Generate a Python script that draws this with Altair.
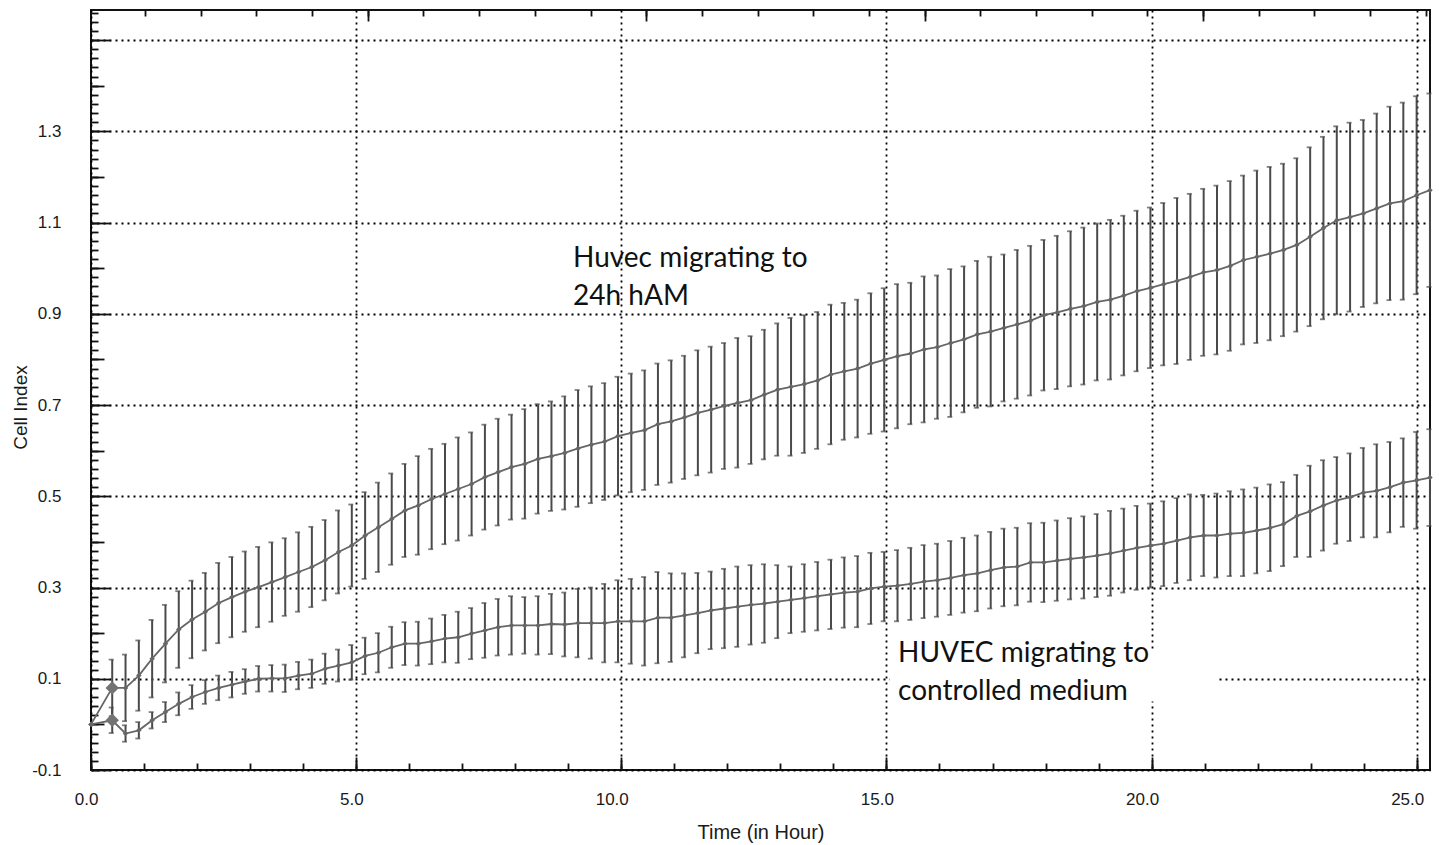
import altair as alt
import pandas as pd

# ---------------- data ----------------
START_T = 0.0          # first reading (time 0)
START_V = 0.0          # both curves start at 0
FIRST_SWEEP_T = 0.4    # first reading after the treatment (big diamond)
SWEEP_STEP = 0.251     # hours between readings

HAM_MEAN = [0.080, 0.080, 0.107, 0.144, 0.177, 0.208, 0.230, 0.247, 0.266, 0.279,
            0.291, 0.301, 0.312, 0.323, 0.334, 0.345, 0.360, 0.378, 0.392, 0.414,
            0.432, 0.450, 0.469, 0.480, 0.494, 0.505, 0.516, 0.527, 0.542, 0.553,
            0.564, 0.571, 0.582, 0.588, 0.595, 0.605, 0.613, 0.620, 0.632, 0.639,
            0.645, 0.658, 0.664, 0.673, 0.683, 0.690, 0.698, 0.705, 0.711, 0.723,
            0.734, 0.740, 0.746, 0.754, 0.767, 0.774, 0.780, 0.791, 0.799, 0.807,
            0.813, 0.822, 0.827, 0.836, 0.844, 0.855, 0.861, 0.869, 0.877, 0.885,
            0.897, 0.903, 0.911, 0.917, 0.926, 0.931, 0.940, 0.950, 0.957, 0.965,
            0.972, 0.981, 0.991, 0.996, 1.005, 1.018, 1.025, 1.032, 1.040, 1.051,
            1.069, 1.088, 1.105, 1.112, 1.120, 1.131, 1.142, 1.147, 1.160, 1.171]
HAM_SD = [0.062, 0.073, 0.077, 0.085, 0.085, 0.084, 0.085, 0.085, 0.088, 0.088,
          0.088, 0.088, 0.087, 0.085, 0.087, 0.088, 0.088, 0.091, 0.090, 0.095,
          0.098, 0.100, 0.102, 0.108, 0.110, 0.110, 0.113, 0.113, 0.115, 0.117,
          0.115, 0.120, 0.120, 0.120, 0.124, 0.128, 0.128, 0.128, 0.130, 0.130,
          0.131, 0.133, 0.134, 0.135, 0.137, 0.138, 0.138, 0.142, 0.140, 0.142,
          0.145, 0.151, 0.151, 0.150, 0.153, 0.150, 0.151, 0.154, 0.157, 0.158,
          0.155, 0.160, 0.157, 0.162, 0.160, 0.161, 0.164, 0.161, 0.163, 0.164,
          0.165, 0.168, 0.170, 0.172, 0.172, 0.175, 0.175, 0.176, 0.176, 0.178,
          0.182, 0.182, 0.183, 0.185, 0.186, 0.185, 0.189, 0.190, 0.189, 0.190,
          0.196, 0.200, 0.206, 0.207, 0.205, 0.208, 0.212, 0.216, 0.217, 0.212]
CTL_MEAN = [0.009, -0.020, -0.013, 0.009, 0.027, 0.045, 0.060, 0.071, 0.080, 0.087,
            0.094, 0.100, 0.101, 0.101, 0.107, 0.111, 0.122, 0.129, 0.136, 0.150,
            0.157, 0.169, 0.177, 0.177, 0.182, 0.188, 0.191, 0.199, 0.206, 0.213,
            0.217, 0.217, 0.217, 0.220, 0.219, 0.222, 0.222, 0.222, 0.226, 0.226,
            0.226, 0.234, 0.234, 0.239, 0.244, 0.250, 0.254, 0.258, 0.262, 0.265,
            0.269, 0.273, 0.277, 0.281, 0.285, 0.289, 0.291, 0.298, 0.302, 0.304,
            0.308, 0.313, 0.316, 0.321, 0.327, 0.331, 0.338, 0.344, 0.346, 0.355,
            0.355, 0.359, 0.363, 0.366, 0.370, 0.375, 0.381, 0.387, 0.392, 0.396,
            0.403, 0.410, 0.414, 0.414, 0.418, 0.420, 0.425, 0.431, 0.439, 0.457,
            0.467, 0.480, 0.491, 0.498, 0.508, 0.512, 0.520, 0.530, 0.535, 0.541]
CTL_SD = [0.028, 0.018, 0.018, 0.018, 0.022, 0.025, 0.026, 0.026, 0.027, 0.028,
          0.027, 0.028, 0.029, 0.030, 0.030, 0.031, 0.033, 0.035, 0.038, 0.040,
          0.043, 0.045, 0.047, 0.048, 0.050, 0.052, 0.056, 0.056, 0.060, 0.062,
          0.064, 0.062, 0.064, 0.066, 0.070, 0.075, 0.078, 0.086, 0.090, 0.093,
          0.097, 0.100, 0.097, 0.092, 0.088, 0.085, 0.087, 0.088, 0.087, 0.086,
          0.080, 0.073, 0.074, 0.075, 0.076, 0.077, 0.078, 0.078, 0.076, 0.078,
          0.079, 0.080, 0.080, 0.081, 0.082, 0.083, 0.084, 0.085, 0.085, 0.086,
          0.087, 0.088, 0.089, 0.090, 0.091, 0.093, 0.092, 0.092, 0.092, 0.093,
          0.093, 0.094, 0.089, 0.092, 0.093, 0.095, 0.094, 0.095, 0.092, 0.090,
          0.100, 0.099, 0.095, 0.096, 0.098, 0.102, 0.099, 0.097, 0.106, 0.106]

X_LABELS = [0.0, 5.0, 10.0, 15.0, 20.0, 25.0]
X_MINOR = list(range(0, 26))
Y_GRID = [-0.1, 0.1, 0.3, 0.5, 0.7, 0.9, 1.1, 1.3, 1.5]
Y_MID = [0.0, 0.2, 0.4, 0.6, 0.8, 1.0, 1.2, 1.4]
Y_MINOR = [round(-0.1 + 0.02 * i, 2) for i in range(84)]
TOP_FIRST, TOP_STEP = 1.02, 1.05
TOP_TICKS = [round(TOP_FIRST + TOP_STEP * i, 3) for i in range(24)]
TOP_LONG = [TOP_TICKS[i] for i in (4, 9, 14, 19)]

ANN_TEXT = [["Huvec migrating to", "24h hAM"], ["HUVEC migrating to", "controlled medium"]]
ANN_X = [9.09, 15.22]
ANN_Y = [1.002, 0.137]
ANN_BOX = dict(x=15.06, x2=21.25, y=0.05, y2=0.16)   # white area behind lower label

X_DOMAIN = [0, 25.25]
Y_DOMAIN = [-0.1, 1.566]
W, H = 1339, 760

# ---------------- tables ----------------
times = [round(FIRST_SWEEP_T + SWEEP_STEP * k, 3) for k in range(len(HAM_MEAN))]
rows = []
for name, means, sds in [("ham", HAM_MEAN, HAM_SD), ("ctl", CTL_MEAN, CTL_SD)]:
    rows.append(dict(series=name, t=START_T, v=START_V, lo=None, hi=None, big=False, order=-1))
    for k, (m, s) in enumerate(zip(means, sds)):
        rows.append(dict(series=name, t=times[k], v=m, lo=round(m - s, 4), hi=round(m + s, 4),
                         big=(k == 0), order=k))
df = pd.DataFrame(rows)
ann = pd.DataFrame({"label": ANN_TEXT, "x": ANN_X, "y": ANN_Y})
box = pd.DataFrame([ANN_BOX])
anchor = pd.DataFrame({"t": [1.0], "v": [0.5]})

xs = alt.Scale(domain=X_DOMAIN, nice=False, zero=False)
ys = alt.Scale(domain=Y_DOMAIN, nice=False, zero=False)
FONT = "Liberation Sans"
GREY_LINE = "#666666"
GREY_BAR = "#4a4a4a"
GRID = "#000000"

def X(field, axis=None):
    return alt.X(field, type="quantitative", scale=xs, axis=axis)

def Y(field, axis=None):
    return alt.Y(field, type="quantitative", scale=ys, axis=axis)

# ---------------- axis layers ----------------
def axis_layer(xaxis=None, yaxis=None):
    return alt.Chart(anchor).mark_point(opacity=0).encode(x=X("t", xaxis), y=Y("v", yaxis))

bottom_axis = alt.Axis(orient="bottom", values=X_LABELS, format=".1f", grid=True,
                       gridColor=GRID, gridDash=[2, 4], gridWidth=1.8,
                       ticks=False, tickSize=0, domain=False,
                       labelFont=FONT, labelFontSize=17, labelColor="#1a1a1a",
                       labelPadding=21, labelAlign="right", labelOffset=7, labelBaseline="top",
                       title="Time (in Hour)", titleFont=FONT, titleFontSize=20,
                       titleFontWeight="normal", titleColor="#1a1a1a",
                       titleBaseline="middle", titleY=62)
left_axis = alt.Axis(orient="left", values=Y_GRID, grid=True,
                     labelExpr="datum.value > 1.4 ? '' : replace(format(datum.value, '.1f'), '\u2212', '-')",
                     gridColor=GRID, gridDash=[2, 4], gridWidth=1.8,
                     ticks=False, tickSize=0, domain=False,
                     labelFont=FONT, labelFontSize=17, labelColor="#1a1a1a", labelPadding=30,
                     title="Cell Index", titleFont=FONT, titleFontSize=19,
                     titleFontWeight="normal", titleColor="#1a1a1a",
                     titleAngle=270, titleX=-71, titleY=397, titleAlign="center",
                     titleBaseline="middle")

def tick_axis_x(orient, values, size):
    return alt.Axis(orient=orient, offset=-H, values=values, ticks=True, tickSize=size,
                    tickColor="#111111", tickWidth=1.8, labels=False, grid=False,
                    domain=False, title=None)

def tick_axis_y(values, size):
    return alt.Axis(orient="right", offset=-W, values=values, ticks=True, tickSize=size,
                    tickColor="#111111", tickWidth=1.8, labels=False, grid=False,
                    domain=False, title=None)

axes = [
    axis_layer(xaxis=bottom_axis),
    axis_layer(yaxis=left_axis),
    axis_layer(xaxis=tick_axis_x("top", X_MINOR, 7)),
    axis_layer(xaxis=tick_axis_x("top", X_LABELS, 13)),
    axis_layer(xaxis=tick_axis_x("bottom", TOP_TICKS, 6)),
    axis_layer(xaxis=tick_axis_x("bottom", TOP_LONG, 11)),
    axis_layer(yaxis=tick_axis_y(Y_MINOR, 7)),
    axis_layer(yaxis=tick_axis_y(Y_MID, 13)),
    axis_layer(yaxis=tick_axis_y(Y_GRID, 19)),
]

# ---------------- data layers ----------------
bg = alt.Chart(box).mark_rect(color="white").encode(x=X("x"), x2="x2", y=Y("y"), y2="y2")

bars = alt.Chart(df).transform_filter("isValid(datum.lo)").mark_rule(
    color=GREY_BAR, strokeWidth=2).encode(x=X("t"), y=Y("lo"), y2="hi")
cap_lo = alt.Chart(df).transform_filter("isValid(datum.lo)").mark_tick(
    orient="horizontal", color=GREY_BAR, size=5, thickness=1.8, xOffset=-1).encode(x=X("t"), y=Y("lo"))
cap_hi = alt.Chart(df).transform_filter("isValid(datum.hi)").mark_tick(
    orient="horizontal", color=GREY_BAR, size=5, thickness=1.8, xOffset=-1).encode(x=X("t"), y=Y("hi"))

lines = alt.Chart(df).mark_line(color=GREY_LINE, strokeWidth=1.8).encode(
    x=X("t"), y=Y("v"), detail="series:N", order="order:Q")
pts = alt.Chart(df).mark_point(shape="diamond", filled=True, color=GREY_LINE, size=30,
                               opacity=1).encode(x=X("t"), y=Y("v"))
big = alt.Chart(df).transform_filter("datum.big").mark_point(
    shape="diamond", filled=True, color="#737373", size=180, opacity=1).encode(x=X("t"), y=Y("v"))

labels = alt.Chart(ann).mark_text(font="Lato", fontSize=28, color="#111111", align="left",
                                  baseline="alphabetic", lineHeight=38).encode(
    x=X("x"), y=Y("y"), text="label")

chart = alt.layer(
    *axes, bg, bars, cap_lo, cap_hi, lines, pts, big, labels
).resolve_axis(x="independent", y="independent").properties(
    width=W, height=H,
    padding={"left": 91, "top": 10, "right": 9, "bottom": 75},
    autosize=alt.AutoSizeParams(type="none"),
    background="white",
).configure_view(stroke="#111111", strokeWidth=2)

chart.save("out.html", embed_options={"renderer": "svg", "actions": False})
